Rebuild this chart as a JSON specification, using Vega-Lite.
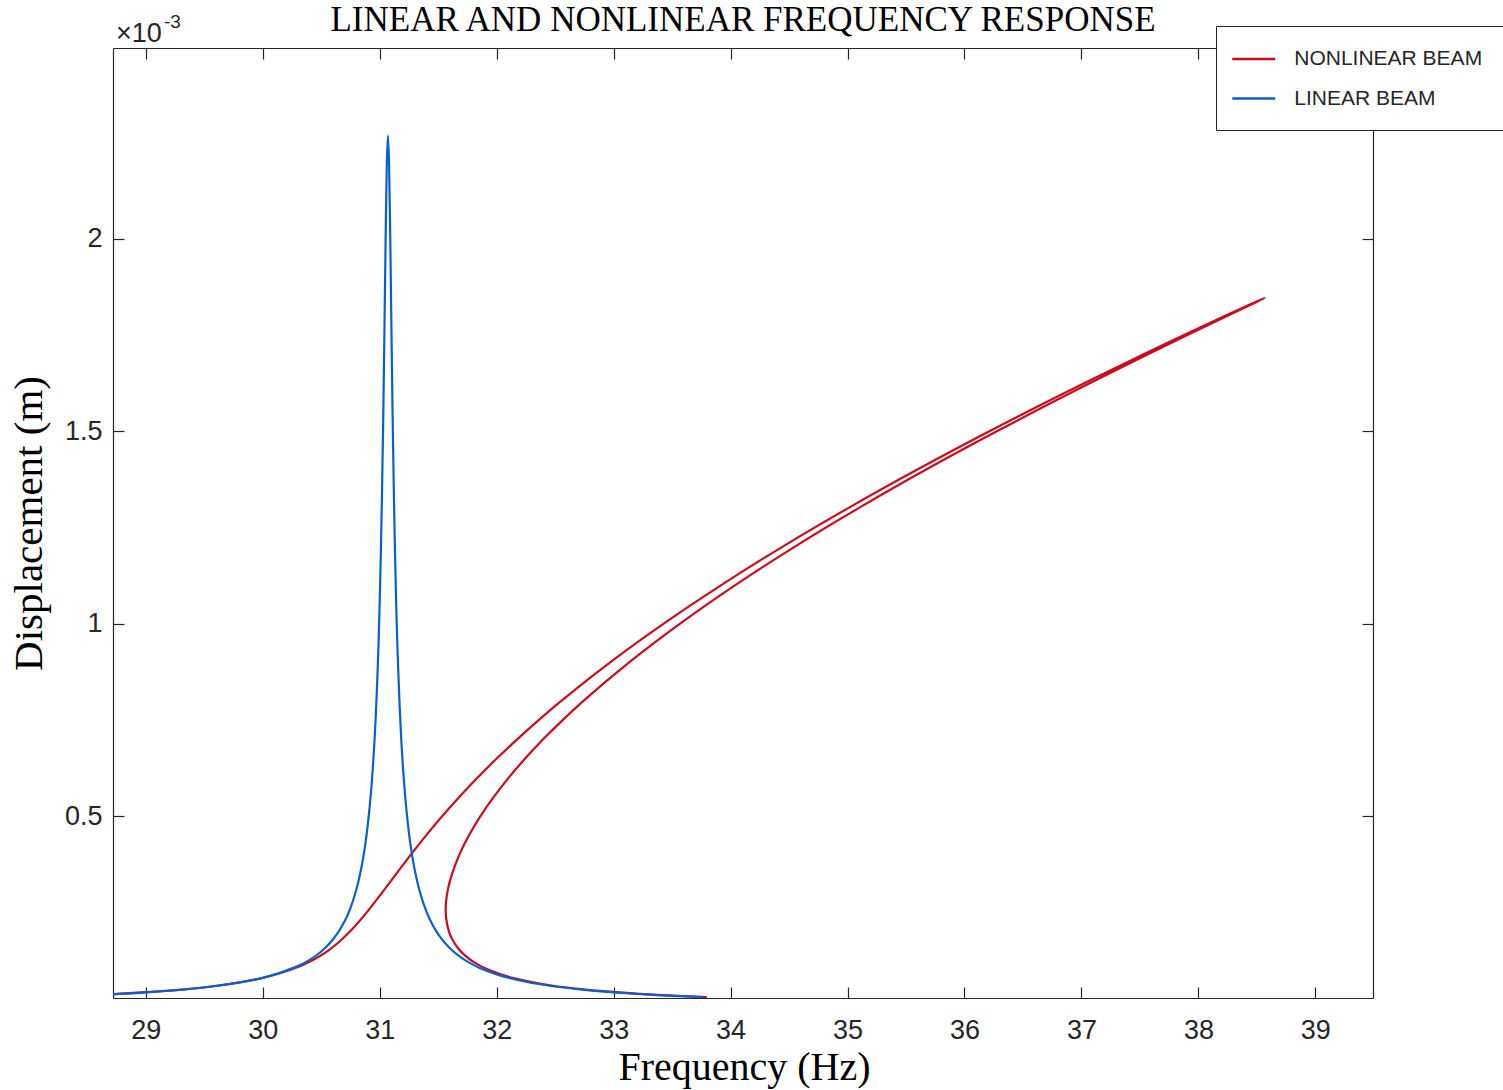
{
  "$schema": "https://vega.github.io/schema/vega-lite/v6.json",
  "width": 1260,
  "height": 950,
  "autosize": {"type": "none"},
  "padding": {"left": 113, "top": 48, "right": 130, "bottom": 92},
  "background": "white",
  "config": {
    "view": {"stroke": null},
    "axis": {"grid": false, "domainColor": "#262626", "tickColor": "#262626", "labelColor": "#262626", "domainWidth": 1.2, "tickWidth": 1.2}
  },
  "title": {
    "text": "LINEAR AND NONLINEAR FREQUENCY RESPONSE",
    "font": "Liberation Serif",
    "fontSize": 35,
    "fontWeight": "normal",
    "color": "#000000",
    "anchor": "middle",
    "frame": "group",
    "baseline": "alphabetic",
    "offset": 17,
    "dy": 70
  },
  "datasets": {
    "nonlinear": [
      {"f": 28.716, "d": 0.0000376, "beam": "NONLINEAR BEAM"},
      {"f": 28.973, "d": 0.000042, "beam": "NONLINEAR BEAM"},
      {"f": 29.322, "d": 0.00005, "beam": "NONLINEAR BEAM"},
      {"f": 29.625, "d": 0.00006, "beam": "NONLINEAR BEAM"},
      {"f": 29.84, "d": 0.00007, "beam": "NONLINEAR BEAM"},
      {"f": 30.003, "d": 0.00008, "beam": "NONLINEAR BEAM"},
      {"f": 30.232, "d": 0.0001, "beam": "NONLINEAR BEAM"},
      {"f": 30.422, "d": 0.000125, "beam": "NONLINEAR BEAM"},
      {"f": 30.556, "d": 0.00015, "beam": "NONLINEAR BEAM"},
      {"f": 30.659, "d": 0.000175, "beam": "NONLINEAR BEAM"},
      {"f": 30.745, "d": 0.0002, "beam": "NONLINEAR BEAM"},
      {"f": 30.889, "d": 0.00025, "beam": "NONLINEAR BEAM"},
      {"f": 31.017, "d": 0.0003, "beam": "NONLINEAR BEAM"},
      {"f": 31.067, "d": 0.00032, "beam": "NONLINEAR BEAM"},
      {"f": 31.141, "d": 0.00035, "beam": "NONLINEAR BEAM"},
      {"f": 31.266, "d": 0.0004, "beam": "NONLINEAR BEAM"},
      {"f": 31.397, "d": 0.00045, "beam": "NONLINEAR BEAM"},
      {"f": 31.535, "d": 0.0005, "beam": "NONLINEAR BEAM"},
      {"f": 31.682, "d": 0.00055, "beam": "NONLINEAR BEAM"},
      {"f": 31.837, "d": 0.0006, "beam": "NONLINEAR BEAM"},
      {"f": 32.002, "d": 0.00065, "beam": "NONLINEAR BEAM"},
      {"f": 32.177, "d": 0.0007, "beam": "NONLINEAR BEAM"},
      {"f": 32.361, "d": 0.00075, "beam": "NONLINEAR BEAM"},
      {"f": 32.555, "d": 0.0008, "beam": "NONLINEAR BEAM"},
      {"f": 32.973, "d": 0.0009, "beam": "NONLINEAR BEAM"},
      {"f": 33.428, "d": 0.001, "beam": "NONLINEAR BEAM"},
      {"f": 33.92, "d": 0.0011, "beam": "NONLINEAR BEAM"},
      {"f": 34.446, "d": 0.0012, "beam": "NONLINEAR BEAM"},
      {"f": 35.006, "d": 0.0013, "beam": "NONLINEAR BEAM"},
      {"f": 35.597, "d": 0.0014, "beam": "NONLINEAR BEAM"},
      {"f": 36.217, "d": 0.0015, "beam": "NONLINEAR BEAM"},
      {"f": 36.864, "d": 0.0016, "beam": "NONLINEAR BEAM"},
      {"f": 37.536, "d": 0.0017, "beam": "NONLINEAR BEAM"},
      {"f": 37.882, "d": 0.00175, "beam": "NONLINEAR BEAM"},
      {"f": 38.234, "d": 0.0018, "beam": "NONLINEAR BEAM"},
      {"f": 38.449, "d": 0.00183, "beam": "NONLINEAR BEAM"},
      {"f": 38.568, "d": 0.001846, "beam": "NONLINEAR BEAM"},
      {"f": 38.461, "d": 0.00183, "beam": "NONLINEAR BEAM"},
      {"f": 38.254, "d": 0.0018, "beam": "NONLINEAR BEAM"},
      {"f": 37.911, "d": 0.00175, "beam": "NONLINEAR BEAM"},
      {"f": 37.573, "d": 0.0017, "beam": "NONLINEAR BEAM"},
      {"f": 36.914, "d": 0.0016, "beam": "NONLINEAR BEAM"},
      {"f": 36.28, "d": 0.0015, "beam": "NONLINEAR BEAM"},
      {"f": 35.672, "d": 0.0014, "beam": "NONLINEAR BEAM"},
      {"f": 35.095, "d": 0.0013, "beam": "NONLINEAR BEAM"},
      {"f": 34.55, "d": 0.0012, "beam": "NONLINEAR BEAM"},
      {"f": 34.04, "d": 0.0011, "beam": "NONLINEAR BEAM"},
      {"f": 33.568, "d": 0.001, "beam": "NONLINEAR BEAM"},
      {"f": 33.135, "d": 0.0009, "beam": "NONLINEAR BEAM"},
      {"f": 32.744, "d": 0.0008, "beam": "NONLINEAR BEAM"},
      {"f": 32.566, "d": 0.00075, "beam": "NONLINEAR BEAM"},
      {"f": 32.399, "d": 0.0007, "beam": "NONLINEAR BEAM"},
      {"f": 32.245, "d": 0.00065, "beam": "NONLINEAR BEAM"},
      {"f": 32.103, "d": 0.0006, "beam": "NONLINEAR BEAM"},
      {"f": 31.975, "d": 0.00055, "beam": "NONLINEAR BEAM"},
      {"f": 31.861, "d": 0.0005, "beam": "NONLINEAR BEAM"},
      {"f": 31.763, "d": 0.00045, "beam": "NONLINEAR BEAM"},
      {"f": 31.681, "d": 0.0004, "beam": "NONLINEAR BEAM"},
      {"f": 31.618, "d": 0.00035, "beam": "NONLINEAR BEAM"},
      {"f": 31.59, "d": 0.00032, "beam": "NONLINEAR BEAM"},
      {"f": 31.577, "d": 0.0003, "beam": "NONLINEAR BEAM"},
      {"f": 31.568, "d": 0.00028, "beam": "NONLINEAR BEAM"},
      {"f": 31.565, "d": 0.00027, "beam": "NONLINEAR BEAM"},
      {"f": 31.564, "d": 0.00025, "beam": "NONLINEAR BEAM"},
      {"f": 31.57, "d": 0.00023, "beam": "NONLINEAR BEAM"},
      {"f": 31.592, "d": 0.0002, "beam": "NONLINEAR BEAM"},
      {"f": 31.62, "d": 0.00018, "beam": "NONLINEAR BEAM"},
      {"f": 31.661, "d": 0.00016, "beam": "NONLINEAR BEAM"},
      {"f": 31.721, "d": 0.00014, "beam": "NONLINEAR BEAM"},
      {"f": 31.808, "d": 0.00012, "beam": "NONLINEAR BEAM"},
      {"f": 31.936, "d": 0.0001, "beam": "NONLINEAR BEAM"},
      {"f": 32.134, "d": 0.00008, "beam": "NONLINEAR BEAM"},
      {"f": 32.469, "d": 0.00006, "beam": "NONLINEAR BEAM"},
      {"f": 32.737, "d": 0.00005, "beam": "NONLINEAR BEAM"},
      {"f": 33.137, "d": 0.00004, "beam": "NONLINEAR BEAM"},
      {"f": 33.421, "d": 0.000035, "beam": "NONLINEAR BEAM"},
      {"f": 33.796, "d": 0.00003, "beam": "NONLINEAR BEAM"}
    ],
    "linear": [
      {"f": 28.72, "d": 0.0000371, "beam": "LINEAR BEAM"},
      {"f": 29.0, "d": 0.0000419, "beam": "LINEAR BEAM"},
      {"f": 29.5, "d": 0.0000548, "beam": "LINEAR BEAM"},
      {"f": 30.0, "d": 0.0000798, "beam": "LINEAR BEAM"},
      {"f": 30.3, "d": 0.0001103, "beam": "LINEAR BEAM"},
      {"f": 30.4, "d": 0.0001264, "beam": "LINEAR BEAM"},
      {"f": 30.5, "d": 0.0001482, "beam": "LINEAR BEAM"},
      {"f": 30.6, "d": 0.0001793, "beam": "LINEAR BEAM"},
      {"f": 30.7, "d": 0.000227, "beam": "LINEAR BEAM"},
      {"f": 30.75, "d": 0.0002618, "beam": "LINEAR BEAM"},
      {"f": 30.8, "d": 0.0003092, "beam": "LINEAR BEAM"},
      {"f": 30.85, "d": 0.0003775, "beam": "LINEAR BEAM"},
      {"f": 30.875, "d": 0.000424, "beam": "LINEAR BEAM"},
      {"f": 30.9, "d": 0.0004838, "beam": "LINEAR BEAM"},
      {"f": 30.925, "d": 0.000562, "beam": "LINEAR BEAM"},
      {"f": 30.95, "d": 0.0006696, "beam": "LINEAR BEAM"},
      {"f": 30.965, "d": 0.000755, "beam": "LINEAR BEAM"},
      {"f": 30.98, "d": 0.0008639, "beam": "LINEAR BEAM"},
      {"f": 30.99, "d": 0.0009533, "beam": "LINEAR BEAM"},
      {"f": 31.0, "d": 0.0010619, "beam": "LINEAR BEAM"},
      {"f": 31.01, "d": 0.0011915, "beam": "LINEAR BEAM"},
      {"f": 31.02, "d": 0.0013524, "beam": "LINEAR BEAM"},
      {"f": 31.03, "d": 0.0015402, "beam": "LINEAR BEAM"},
      {"f": 31.04, "d": 0.0017625, "beam": "LINEAR BEAM"},
      {"f": 31.05, "d": 0.0019956, "beam": "LINEAR BEAM"},
      {"f": 31.06, "d": 0.0021889, "beam": "LINEAR BEAM"},
      {"f": 31.07, "d": 0.0022675, "beam": "LINEAR BEAM"},
      {"f": 31.08, "d": 0.0021889, "beam": "LINEAR BEAM"},
      {"f": 31.09, "d": 0.0019956, "beam": "LINEAR BEAM"},
      {"f": 31.1, "d": 0.0017612, "beam": "LINEAR BEAM"},
      {"f": 31.11, "d": 0.0015385, "beam": "LINEAR BEAM"},
      {"f": 31.12, "d": 0.001348, "beam": "LINEAR BEAM"},
      {"f": 31.13, "d": 0.0011889, "beam": "LINEAR BEAM"},
      {"f": 31.14, "d": 0.0010582, "beam": "LINEAR BEAM"},
      {"f": 31.15, "d": 0.0009504, "beam": "LINEAR BEAM"},
      {"f": 31.17, "d": 0.0007855, "beam": "LINEAR BEAM"},
      {"f": 31.185, "d": 0.000693, "beam": "LINEAR BEAM"},
      {"f": 31.2, "d": 0.0006193, "beam": "LINEAR BEAM"},
      {"f": 31.225, "d": 0.0005261, "beam": "LINEAR BEAM"},
      {"f": 31.25, "d": 0.0004552, "beam": "LINEAR BEAM"},
      {"f": 31.275, "d": 0.0004013, "beam": "LINEAR BEAM"},
      {"f": 31.3, "d": 0.0003588, "beam": "LINEAR BEAM"},
      {"f": 31.35, "d": 0.0002957, "beam": "LINEAR BEAM"},
      {"f": 31.4, "d": 0.0002513, "beam": "LINEAR BEAM"},
      {"f": 31.45, "d": 0.0002184, "beam": "LINEAR BEAM"},
      {"f": 31.5, "d": 0.000193, "beam": "LINEAR BEAM"},
      {"f": 31.6, "d": 0.0001566, "beam": "LINEAR BEAM"},
      {"f": 31.7, "d": 0.0001316, "beam": "LINEAR BEAM"},
      {"f": 31.75, "d": 0.0001219, "beam": "LINEAR BEAM"},
      {"f": 31.85, "d": 0.0001062, "beam": "LINEAR BEAM"},
      {"f": 32.0, "d": 0.0000889, "beam": "LINEAR BEAM"},
      {"f": 32.25, "d": 0.0000698, "beam": "LINEAR BEAM"},
      {"f": 32.5, "d": 0.0000573, "beam": "LINEAR BEAM"},
      {"f": 32.75, "d": 0.0000486, "beam": "LINEAR BEAM"},
      {"f": 33.0, "d": 0.0000422, "beam": "LINEAR BEAM"},
      {"f": 33.25, "d": 0.0000372, "beam": "LINEAR BEAM"},
      {"f": 33.5, "d": 0.0000332, "beam": "LINEAR BEAM"},
      {"f": 33.76, "d": 0.0000299, "beam": "LINEAR BEAM"}
    ]
  },
  "layer": [
    {
      "data": {"name": "nonlinear"},
      "mark": {"type": "line", "strokeWidth": 2.2, "clip": true, "interpolate": "catmull-rom"},
      "encoding": {
        "x": {
          "field": "f", "type": "quantitative",
          "scale": {"domain": [28.719, 39.493], "nice": false, "zero": false},
          "axis": {
            "orient": "bottom", "values": [29, 30, 31, 32, 33, 34, 35, 36, 37, 38, 39],
            "tickSize": -11, "labelPadding": 51, "labelBaseline": "alphabetic",
            "labelFont": "Liberation Sans", "labelFontSize": 27, "labelFlush": false, "labelOverlap": false,
            "title": "Frequency (Hz)", "titleFont": "Liberation Serif", "titleFontSize": 40, "titleFontWeight": "normal",
            "titleColor": "#000000", "titleX": 631, "titleY": 81, "titleBaseline": "alphabetic", "titleAlign": "center"
          }
        },
        "y": {
          "field": "d", "type": "quantitative",
          "scale": {"domain": [0.0000275, 0.002495], "nice": false, "zero": false},
          "axis": {
            "orient": "left", "values": [0.0005, 0.001, 0.0015, 0.002],
            "labelExpr": "format(datum.value * 1000, '~g')",
            "tickSize": -11, "labelPadding": 22, "labelBaseline": "middle",
            "labelFont": "Liberation Sans", "labelFontSize": 27, "labelFlush": false, "labelOverlap": false,
            "title": "Displacement (m)", "titleFont": "Liberation Serif", "titleFontSize": 41, "titleFontWeight": "normal",
            "titleColor": "#000000", "titleX": -72, "titleY": 475, "titleAngle": 270, "titleBaseline": "alphabetic", "titleAlign": "center"
          }
        },
        "color": {
          "field": "beam", "type": "nominal",
          "scale": {"domain": ["NONLINEAR BEAM", "LINEAR BEAM"], "range": ["#CC0A1E", "#0A5FD0"]},
          "legend": {
            "orient": "none", "legendX": 1103, "legendY": -22, "title": null,
            "symbolType": "M-2,0H2", "symbolSize": 462, "symbolStrokeWidth": 2.5, "symbolOffset": 4.75,
            "labelOffset": 28.5, "labelFont": "Liberation Sans", "labelFontSize": 21, "labelColor": "#262626", "labelLimit": 400,
            "padding": 21, "rowPadding": 17.5, "fillColor": "white", "strokeColor": "#262626"
          }
        },
        "order": {"value": null}
      }
    },
    {
      "data": {"name": "linear"},
      "mark": {"type": "line", "strokeWidth": 2.2, "clip": true, "interpolate": "catmull-rom"},
      "encoding": {
        "x": {
          "field": "f", "type": "quantitative",
          "axis": {"orient": "top", "values": [29, 30, 31, 32, 33, 34, 35, 36, 37, 38, 39], "tickSize": -11, "labels": false, "title": null}
        },
        "y": {
          "field": "d", "type": "quantitative",
          "axis": {"orient": "right", "values": [0.0005, 0.001, 0.0015, 0.002], "tickSize": -11, "labels": false, "title": null}
        },
        "color": {"field": "beam", "type": "nominal"},
        "order": {"value": null}
      }
    },
    {
      "data": {"values": [{}]},
      "mark": {"type": "text", "align": "left", "baseline": "alphabetic", "font": "Liberation Sans", "fontSize": 27, "color": "#262626", "dx": 3, "dy": -6},
      "encoding": {
        "x": {"datum": 28.719, "type": "quantitative", "axis": null},
        "y": {"datum": 0.002495, "type": "quantitative", "axis": null},
        "text": {"value": "×10"}
      }
    },
    {
      "data": {"values": [{}]},
      "mark": {"type": "text", "align": "left", "baseline": "alphabetic", "font": "Liberation Sans", "fontSize": 19, "color": "#262626", "dx": 51, "dy": -20},
      "encoding": {
        "x": {"datum": 28.719, "type": "quantitative", "axis": null},
        "y": {"datum": 0.002495, "type": "quantitative", "axis": null},
        "text": {"value": "-3"}
      }
    }
  ],
  "resolve": {"axis": {"x": "independent", "y": "independent"}}
}
